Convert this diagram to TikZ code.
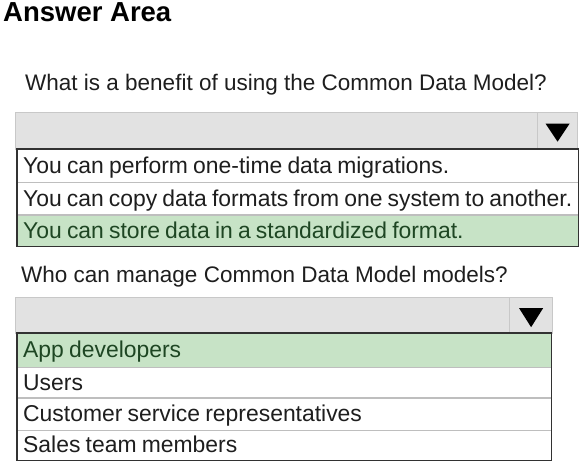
\documentclass[tikz,border=0pt]{standalone}
\usepackage{fontspec}
\setmainfont{Liberation Sans}
\usetikzlibrary{positioning}

\definecolor{selgray}{RGB}{226,226,226}
\definecolor{selborder}{RGB}{200,200,200}
\definecolor{rowline}{RGB}{190,190,190}
\definecolor{listborder}{RGB}{50,50,50}
\definecolor{okgreen}{RGB}{199,227,198}
\definecolor{okgreentext}{RGB}{30,70,35}
\definecolor{txtgray}{RGB}{30,30,30}

\newcommand\optspacing{\spaceskip=5.2pt plus 2pt minus 1pt\relax}

\begin{document}
\begin{tikzpicture}[
        x=1pt, y=-1pt,
        every node/.style={inner sep=0pt, text=txtgray},
        question/.style={anchor=base west, font=\fontsize{22.5}{26}\selectfont},
        selbox/.style={draw=selborder, fill=selgray, minimum height=37pt},
        option/.style={draw=rowline, fill=white, text width=#1, inner xsep=6pt,
            text height=16pt, text depth=1pt, align=left,
            font=\fontsize{22.9}{26}\selectfont, execute at begin node=\optspacing},
        option/.default=549pt,
        answer/.style={option=#1, fill=okgreen, text=okgreentext},
        answer/.default=549pt
    ]
        \useasboundingbox (0,0) rectangle (581,461);

        % Titel
        \node [anchor=base west, text=black, font=\bfseries\fontsize{27.5}{32}\selectfont] (title) at (3,21) {Answer Area};

        % Frage 1
        \node [question] (q1) at (25,90) {What is a benefit of using the Common Data Model?};
        \node [selbox, minimum width=522pt, anchor=north west] (sel1) at (15,112) {};
        \node [selbox, minimum width=40pt, right=0pt of sel1] (btn1) {};
        \fill [black, shift={(btn1.center)}] (-12,-7) -- (12,-7) -- (0,11) -- cycle;

        \node [option, minimum height=33pt, anchor=north west] (a1) at (17,149) {You can perform one-time data migrations.};
        \node [option, minimum height=32pt, below=0pt of a1] (a2) {You can copy data formats from one system to another.};
        \node [answer, minimum height=31pt, below=0pt of a2] (a3) {You can store data in a standardized format.};
        \draw [listborder, line width=1.2pt] (a1.north west) rectangle (a3.south east);

        % Frage 2
        \node [question] (q2) at (21,282) {Who can manage Common Data Model models?};
        \node [selbox, minimum width=494pt, minimum height=36pt, anchor=north west] (sel2) at (15,297) {};
        \node [selbox, minimum width=43pt, minimum height=36pt, right=0pt of sel2] (btn2) {};
        \fill [black, shift={(btn2.center)}] (-12,-7) -- (12,-7) -- (0,12) -- cycle;

        \node [answer=522pt, minimum height=34pt, anchor=north west] (b1) at (17,333) {App developers};
        \node [option=522pt, minimum height=30pt, below=0pt of b1] (b2) {Users};
        \node [option=522pt, minimum height=32pt, below=0pt of b2] (b3) {Customer service representatives};
        \node [option=522pt, minimum height=30pt, below=0pt of b3] (b4) {Sales team members};
        \draw [listborder, line width=1.2pt] (b1.north west) rectangle (b4.south east);
    \end{tikzpicture}
\end{document}
